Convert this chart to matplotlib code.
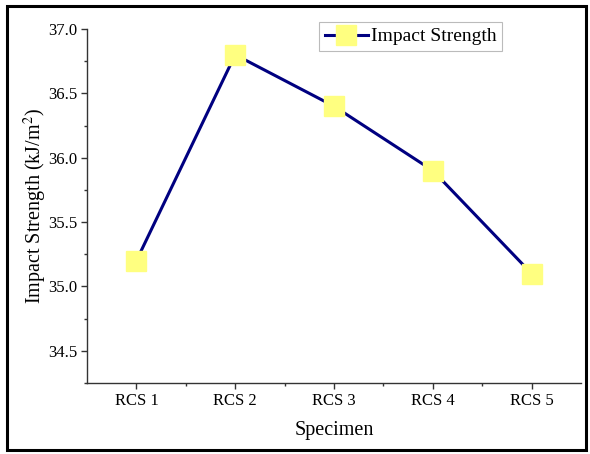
import numpy as np
import matplotlib.pyplot as plt
from matplotlib.patches import Rectangle
from matplotlib.ticker import MultipleLocator

# data
specimens = ["RCS 1", "RCS 2", "RCS 3", "RCS 4", "RCS 5"]
impact = [35.2, 36.8, 36.4, 35.9, 35.1]

plt.rcParams['font.family'] = ['Liberation Serif', 'DejaVu Serif']
plt.rcParams['mathtext.fontset'] = 'stix'

fig = plt.figure(figsize=(5.9, 4.54), dpi=100)
ax = fig.add_axes([87/590, 1 - 383/454, 494/590, 354/454])

x = np.arange(len(specimens))
ax.plot(x, impact, "-s", color="#000080", linewidth=2.2,
        markersize=14, markerfacecolor="#FFFF80", markeredgecolor="#FFFF80",
        label="Impact Strength")

ax.set_xlim(-0.5, len(specimens) - 0.5)
ax.set_ylim(34.25, 37.0)
ax.set_xticks(x)
ax.set_xticklabels(specimens)
ax.set_xticks(x[:-1] + 0.5, minor=True)
ax.yaxis.set_major_locator(MultipleLocator(0.5))
ax.yaxis.set_minor_locator(MultipleLocator(0.25))
ax.yaxis.set_major_formatter(plt.FormatStrFormatter("%.1f"))

for s in ["top", "right"]:
    ax.spines[s].set_visible(False)
for s in ["left", "bottom"]:
    ax.spines[s].set_color("#333333")
    ax.spines[s].set_linewidth(1.0)

ax.tick_params(which="major", direction="out", length=4, width=1, labelsize=12,
               colors="#333333", labelcolor="black", pad=3)
ax.tick_params(which="minor", direction="out", length=2, width=1, colors="#333333")

ax.set_xlabel("Specimen", fontsize=14.5, labelpad=9)
ax.set_ylabel("Impact Strength (kJ/m$^2$)", fontsize=14.5, labelpad=-1)

leg = ax.legend(loc="upper left", bbox_to_anchor=(319/590, 1 - 22/454),
                bbox_transform=fig.transFigure, fontsize=14, fancybox=False,
                handlelength=2.2, borderpad=0.3, handletextpad=0.15,
                markerscale=1.0, borderaxespad=0)
leg.get_frame().set_edgecolor("#aaaaaa")
leg.get_frame().set_linewidth(0.8)

# outer border around figure
fig.patches.append(Rectangle((7/590, 1 - 450/454), 579/590, 444/454,
                             transform=fig.transFigure, fill=False,
                             edgecolor="black", linewidth=2.2))

fig.savefig("out.png", dpi=100)
